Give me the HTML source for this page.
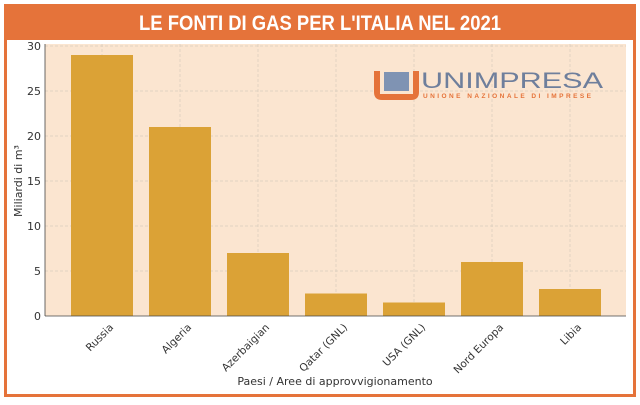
<!DOCTYPE html><html><head><style>body{margin:0;background:#fff;width:640px;height:401px;overflow:hidden;font-family:"DejaVu Sans","Liberation Sans",sans-serif}</style></head><body>
<svg width="640" height="401" xmlns="http://www.w3.org/2000/svg">
<rect x="0" y="0" width="640" height="401" fill="#fff"/>
<rect x="5.5" y="5.5" width="629" height="390" fill="#fff" stroke="#E5733A" stroke-width="3"/>
<rect x="5" y="4" width="630" height="36" fill="#E5733A"/>
<text x="320" y="30" text-anchor="middle" font-family="Liberation Sans, sans-serif" font-weight="bold" font-size="21" fill="#fff" textLength="362" lengthAdjust="spacingAndGlyphs">LE FONTI DI GAS PER L'ITALIA NEL 2021</text>
<rect x="45" y="44" width="581" height="272" fill="#FBE5D0"/>
<g stroke="#d9cbbd" stroke-width="0.7" stroke-dasharray="3,2">
<line x1="45" x2="626" y1="46" y2="46"/><line x1="45" x2="626" y1="91" y2="91"/><line x1="45" x2="626" y1="136" y2="136"/><line x1="45" x2="626" y1="181" y2="181"/><line x1="45" x2="626" y1="226" y2="226"/><line x1="45" x2="626" y1="271" y2="271"/>
<line x1="102" x2="102" y1="44" y2="316"/><line x1="180" x2="180" y1="44" y2="316"/><line x1="258" x2="258" y1="44" y2="316"/><line x1="336" x2="336" y1="44" y2="316"/><line x1="414" x2="414" y1="44" y2="316"/><line x1="492" x2="492" y1="44" y2="316"/><line x1="570" x2="570" y1="44" y2="316"/>
</g>
<g fill="#DBA236">
<rect x="71" y="55" width="62" height="261"/><rect x="149" y="127" width="62" height="189"/><rect x="227" y="253" width="62" height="63"/><rect x="305" y="293.5" width="62" height="22.5"/><rect x="383" y="302.5" width="62" height="13.5"/><rect x="461" y="262" width="62" height="54"/><rect x="539" y="289" width="62" height="27"/>
</g>
<line x1="45" x2="45" y1="44" y2="316" stroke="#444" stroke-width="0.8"/>
<line x1="45" x2="626" y1="316" y2="316" stroke="#444" stroke-width="0.8"/>
<g font-size="11" fill="#333" text-anchor="end">
<text x="41" y="50">30</text><text x="41" y="95">25</text><text x="41" y="140">20</text><text x="41" y="185">15</text><text x="41" y="230">10</text><text x="41" y="275">5</text><text x="41" y="320">0</text>
</g>
<g font-size="10.5" fill="#333" text-anchor="end">
<text transform="translate(114,328) rotate(-45)">Russia</text>
<text transform="translate(192,328) rotate(-45)">Algeria</text>
<text transform="translate(270,328) rotate(-45)">Azerbaigian</text>
<text transform="translate(348,328) rotate(-45)">Qatar (GNL)</text>
<text transform="translate(426,328) rotate(-45)">USA (GNL)</text>
<text transform="translate(504,328) rotate(-45)">Nord Europa</text>
<text transform="translate(582,328) rotate(-45)">Libia</text>
</g>
<text x="335" y="385" text-anchor="middle" font-size="11" fill="#333">Paesi / Aree di approvvigionamento</text>
<text transform="translate(22,181) rotate(-90)" text-anchor="middle" font-size="11" fill="#333">Miliardi di m³</text>
<g>
<path d="M374 71 h45 v21 q0 8 -8 8 h-29 q-8 0 -8 -8z" fill="#E5733A"/>
<rect x="380" y="71" width="33" height="23" fill="#FBE5D0"/>
<rect x="384" y="72" width="25" height="19" fill="#7f93b3"/>
<text x="421" y="88" font-family="Liberation Sans, sans-serif" font-size="22" fill="#6f7f9c" textLength="182" lengthAdjust="spacingAndGlyphs">UNIMPRESA</text>
<text x="423" y="98" font-family="Liberation Sans, sans-serif" font-size="6.5" font-weight="bold" fill="#E5733A" textLength="168" lengthAdjust="spacing">UNIONE NAZIONALE DI IMPRESE</text>
</g>
</svg></body></html>
